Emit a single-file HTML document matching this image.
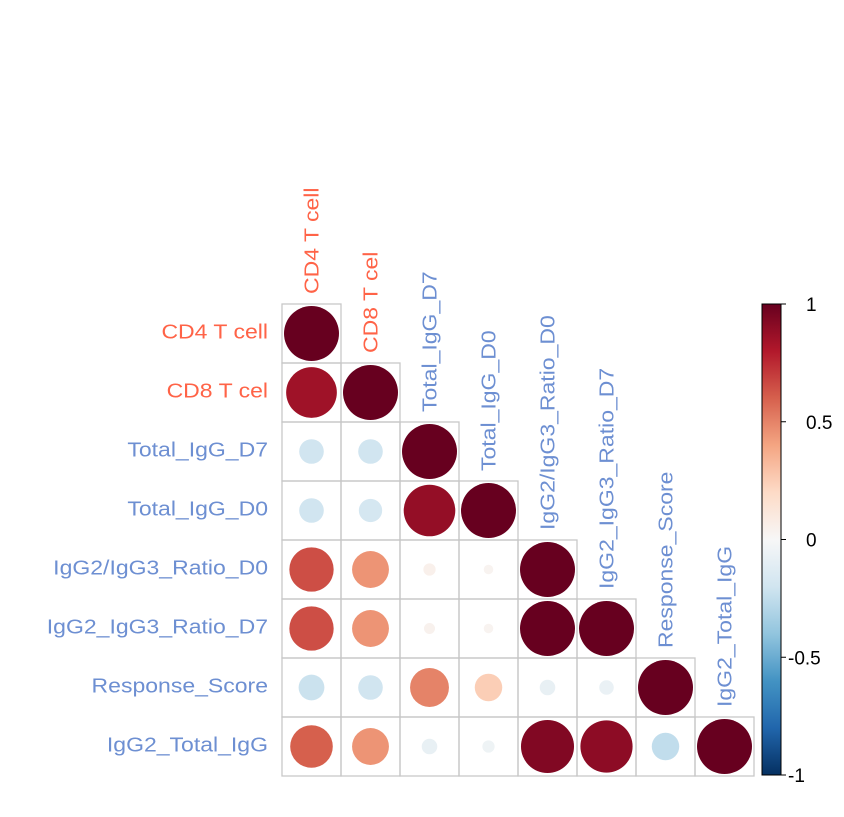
<!DOCTYPE html>
<html><head><meta charset="utf-8"><style>
body{margin:0;background:#fff;}
svg{display:block;font-family:"Liberation Sans",Arial,sans-serif;}
</style></head><body>
<svg id="chart" width="844" height="817"></svg>
<script>
const labels=["CD4 T cell","CD8 T cel","Total_IgG_D7","Total_IgG_D0","IgG2/IgG3_Ratio_D0","IgG2_IgG3_Ratio_D7","Response_Score","IgG2_Total_IgG"];
const labelGroup=["cell","cell","ab","ab","ab","ab","ab","ab"];
const corrRows=[
[1],
[0.85,1],
[-0.2,-0.2,1],
[-0.2,-0.18,0.88,1],
[0.65,0.45,0.05,0.03,1],
[0.65,0.45,0.04,0.03,1,1],
[-0.22,-0.2,0.5,0.25,-0.08,-0.07,1],
[0.6,0.45,-0.08,-0.05,0.93,0.9,-0.25,1]
];
const colorTicks=[1,0.5,0,-0.5,-1];
const tickText=["1","0.5","0","-0.5","-1"];

const NS="http://www.w3.org/2000/svg";
const svg=document.getElementById('chart');
const x0=282,y0=304,cs=59,n=labels.length;
const pal=["#053061","#2166AC","#4393C3","#92C5DE","#D1E5F0","#F7F7F7","#FDDBC7","#F4A582","#D6604D","#B2182B","#67001F"];
function hex(h){return [1,3,5].map(i=>parseInt(h.substr(i,2),16));}
function color(v){
  const t=(v+1)/2*(pal.length-1);const i=Math.min(pal.length-2,Math.floor(t));const f=t-i;
  const a=hex(pal[i]),b=hex(pal[i+1]);
  return "rgb("+a.map((c,k)=>Math.round(c+(b[k]-c)*f)).join(",")+")";
}
function el(tag,attrs){const e=document.createElementNS(NS,tag);for(const k in attrs)e.setAttribute(k,attrs[k]);svg.appendChild(e);return e;}
function widen(t,f){const L=t.getComputedTextLength();t.setAttribute('textLength',L*f);t.setAttribute('lengthAdjust','spacingAndGlyphs');}
const xs=j=>x0+j*cs, ys=i=>y0+i*cs;
const labColor=g=>g==="cell"?"#FF6347":"#6D8FD2";
for(let i=0;i<n;i++){
  const t=el('text',{x:268,y:ys(i)+cs/2+5,'text-anchor':'end','font-size':20,fill:labColor(labelGroup[i])});
  t.textContent=labels[i];
  
  
  widen(t,1.15);
  const cx=xs(i)+cs/2+7, by=ys(i)-10;
  const c=el('text',{x:cx,y:by,'font-size':20,fill:labColor(labelGroup[i]),transform:`rotate(-90 ${cx} ${by})`});
  c.textContent=labels[i];
  
  
  widen(c,1.15);
  for(let j=0;j<=i;j++){
    const r=el('rect',{x:xs(j),y:ys(i),width:cs,height:cs,fill:'none',stroke:'#c8c8c8','stroke-width':1.3});
    
    
    const v=corrRows[i][j];
    const ci=el('circle',{cx:xs(j)+cs/2,cy:ys(i)+cs/2,r:Math.sqrt(Math.abs(v))*27.5,fill:color(v)});
    
    
  }
}
const cbx=762,cbw=19,cbt=304,cbb=775;
const defs=el('defs',{});
const g=document.createElementNS(NS,'linearGradient');g.setAttribute('id','cb');g.setAttribute('x1',0);g.setAttribute('y1',0);g.setAttribute('x2',0);g.setAttribute('y2',1);
for(let k=0;k<=20;k++){const v=1-k/10;const s=document.createElementNS(NS,'stop');s.setAttribute('offset',k/20);s.setAttribute('stop-color',color(v));g.appendChild(s);}
defs.appendChild(g);
const cb=el('rect',{x:cbx,y:cbt,width:cbw,height:cbb-cbt,fill:'url(#cb)',stroke:'#000','stroke-width':1});


const cy=v=>cbt+(1-v)/2*(cbb-cbt);
colorTicks.forEach((v,k)=>{
  el('line',{x1:cbx+cbw,x2:cbx+cbw+5,y1:cy(v),y2:cy(v),stroke:'#000'});
  const t=el('text',{x:v<0?788:806,y:cy(v)+7,'font-size':19,fill:'#000'});
  t.textContent=tickText[k];
  
  
});
</script>
</body></html>
